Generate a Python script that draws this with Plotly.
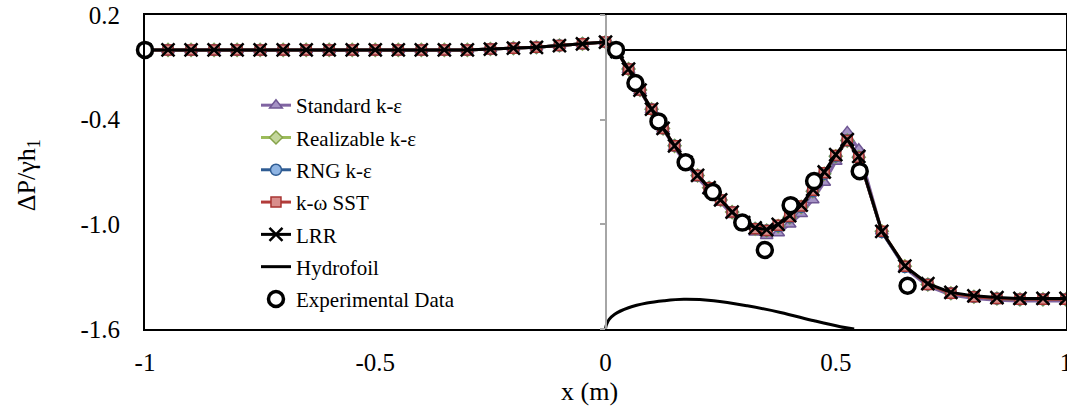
import plotly.graph_objects as go

# ---------------- data ----------------
x_cfd = [-1.0, -0.95, -0.9, -0.85, -0.8, -0.75, -0.7, -0.65, -0.6, -0.55, -0.5,
         -0.45, -0.4, -0.35, -0.3, -0.25, -0.2, -0.15, -0.1, -0.05, 0.0,
         0.025, 0.05, 0.075, 0.1, 0.125, 0.15, 0.175, 0.2, 0.225, 0.25, 0.275,
         0.3, 0.325, 0.35, 0.375, 0.4, 0.425, 0.45, 0.475, 0.5, 0.525, 0.55,
         0.6, 0.65, 0.7, 0.75, 0.8, 0.85, 0.9, 0.95, 1.0]

upstream = [0.0, 0.0, 0.0, 0.0, 0.0, 0.0, 0.0, 0.0, 0.0, 0.0, 0.0,
            0.0, 0.0, 0.0, 0.0, 0.005, 0.01, 0.015, 0.025, 0.035, 0.045]

lrr_down = [-0.01, -0.11, -0.23, -0.34, -0.45, -0.55, -0.645, -0.72, -0.79, -0.86, -0.93,
            -0.99, -1.02, -1.03, -1.0, -0.95, -0.89, -0.8, -0.7, -0.6, -0.515, -0.61,
            -1.04, -1.24, -1.34, -1.39, -1.41, -1.42, -1.425, -1.425, -1.425]
std_down = [-0.01, -0.115, -0.235, -0.345, -0.455, -0.56, -0.655, -0.735, -0.805, -0.875, -0.945,
            -1.005, -1.045, -1.065, -1.05, -1.0, -0.94, -0.86, -0.76, -0.64, -0.47, -0.57,
            -1.04, -1.25, -1.355, -1.405, -1.425, -1.435, -1.44, -1.44, -1.44]
real_down = [-0.01, -0.11, -0.23, -0.34, -0.45, -0.55, -0.645, -0.72, -0.79, -0.86, -0.93,
             -0.99, -1.025, -1.035, -1.01, -0.96, -0.9, -0.81, -0.71, -0.61, -0.52, -0.615,
             -1.04, -1.24, -1.345, -1.395, -1.415, -1.425, -1.43, -1.43, -1.43]
rng_down = [-0.01, -0.11, -0.23, -0.34, -0.45, -0.55, -0.645, -0.72, -0.79, -0.86, -0.93,
            -0.99, -1.025, -1.035, -1.01, -0.96, -0.9, -0.81, -0.71, -0.61, -0.52, -0.615,
            -1.045, -1.245, -1.345, -1.395, -1.415, -1.425, -1.43, -1.43, -1.43]
sst_down = [-0.01, -0.11, -0.23, -0.34, -0.45, -0.55, -0.645, -0.72, -0.79, -0.86, -0.93,
            -0.99, -1.025, -1.035, -1.005, -0.955, -0.895, -0.805, -0.705, -0.605, -0.52, -0.615,
            -1.04, -1.24, -1.345, -1.395, -1.415, -1.425, -1.43, -1.43, -1.43]

y_standard = upstream + std_down
y_realizable = upstream + real_down
y_rng = upstream + rng_down
y_sst = upstream + sst_down
y_lrr = upstream + lrr_down

x_exp = [-1.0, 0.023, 0.065, 0.115, 0.174, 0.233, 0.297, 0.346, 0.402, 0.453, 0.552, 0.656]
y_exp = [0.0, 0.0, -0.19, -0.41, -0.644, -0.815, -0.99, -1.147, -0.89, -0.752, -0.695, -1.352]

x_foil = [0.0, 0.002, 0.008, 0.02, 0.05, 0.09, 0.127, 0.17, 0.235, 0.308, 0.38, 0.453, 0.51, 0.54]
y_foil = [-1.6, -1.575, -1.545, -1.515, -1.478, -1.451, -1.438, -1.43, -1.438, -1.467, -1.505, -1.553, -1.587, -1.6]

x_surface = [0.0, 1.0]
y_surface = [0.0, 0.0]

x_tick_vals = [-1, -0.5, 0, 0.5, 1]
x_tick_text = ["-1", "-0.5", "0", "0.5", "1"]
y_tick_vals = [0.2, -0.4, -1.0, -1.6]
y_tick_text = ["0.2", "-0.4", "-1.0", "-1.6"]

FONT = "Liberation Serif, Times New Roman, serif"

fig = go.Figure()

fig.add_trace(go.Scatter(x=x_surface, y=y_surface, mode="lines", showlegend=False,
                         line=dict(color="black", width=2), hoverinfo="skip"))

fig.add_trace(go.Scatter(
    x=x_cfd, y=y_standard, mode="lines+markers", name="Standard k-ε", legendgroup="g1",
    line=dict(color="#8064A2", width=3),
    marker=dict(symbol="triangle-up", size=11, color="#A592C4",
                line=dict(color="#6F5794", width=1.5))))
fig.add_trace(go.Scatter(
    x=x_cfd, y=y_realizable, mode="lines+markers", name="Realizable k-ε", legendgroup="g2",
    line=dict(color="#9BBB59", width=3),
    marker=dict(symbol="diamond", size=10, color="#C3D69B",
                line=dict(color="#86A34A", width=1.5))))
fig.add_trace(go.Scatter(
    x=x_cfd, y=y_rng, mode="lines+markers", name="RNG k-ε", legendgroup="g3",
    line=dict(color="#2F5C93", width=3),
    marker=dict(symbol="circle", size=11, color="#8EB4E3",
                line=dict(color="#2F5C93", width=1.5))))
fig.add_trace(go.Scatter(
    x=x_cfd, y=y_sst, mode="lines+markers", name="k-ω SST", legendgroup="g4",
    line=dict(color="#B23C3A", width=3),
    marker=dict(symbol="square", size=10, color="#D98E8C",
                line=dict(color="#A83532", width=1.5))))
fig.add_trace(go.Scatter(
    x=x_cfd, y=y_lrr, mode="lines+markers", name="LRR", legendgroup="g5",
    line=dict(color="black", width=3),
    marker=dict(symbol="x-thin-open", size=13, color="black",
                line=dict(color="black", width=2.5))))
fig.add_trace(go.Scatter(
    x=x_foil, y=y_foil, mode="lines", name="Hydrofoil", yaxis="y2", legendgroup="g6",
    line=dict(color="black", width=3, shape="spline")))
fig.add_trace(go.Scatter(
    x=x_exp, y=y_exp, mode="markers", name="Experimental Data", cliponaxis=False,
    legendgroup="g7",
    marker=dict(symbol="circle", size=15, color="white",
                line=dict(color="black", width=3.5))))

fig.update_layout(
    width=1067, height=408,
    margin=dict(l=145, r=1, t=15, b=79, autoexpand=False),
    paper_bgcolor="white", plot_bgcolor="white",
    font=dict(family=FONT, size=25, color="black"),
    xaxis=dict(range=[-1, 1], tickvals=x_tick_vals, ticktext=x_tick_text,
               showgrid=False, zeroline=False, showline=True, mirror=True,
               linecolor="black", linewidth=2, ticks="", ticklabelstandoff=10,
               ticklabeloverflow="allow",
               automargin=False, tickfont=dict(family=FONT, size=25)),
    yaxis=dict(range=[-1.6, 0.2], tickvals=y_tick_vals, ticktext=y_tick_text,
               showgrid=False, zeroline=False, showline=True, mirror=True,
               linecolor="black", linewidth=2, ticks="", ticklabelstandoff=18,
               ticklabeloverflow="allow",
               automargin=False, tickfont=dict(family=FONT, size=25)),
    yaxis2=dict(range=[-1.6, 0.2], overlaying="y", anchor="free", position=0.5,
                side="left", tickvals=y_tick_vals, showticklabels=False,
                showgrid=False, zeroline=False, showline=True, automargin=False,
                linecolor="#A6A6A6", linewidth=1.5, ticks="outside", ticklen=5,
                tickcolor="#A6A6A6", tickwidth=1.5),
    legend=dict(x=0.1205, y=0.777, xanchor="left", yanchor="top",
                bgcolor="rgba(0,0,0,0)", font=dict(family=FONT, size=21),
                tracegroupgap=2),
    showlegend=True,
    annotations=[
        dict(text="ΔP/γh<sub>1</sub>", xref="paper", yref="paper",
             x=-0.127, y=0.49, xanchor="center", yanchor="middle",
             textangle=-90, showarrow=False, font=dict(family=FONT, size=26)),
        dict(text="x (m)", xref="paper", yref="paper",
             x=0.483, y=-0.2, xanchor="center", yanchor="middle",
             showarrow=False, font=dict(family=FONT, size=26)),
    ],
)

fig.write_html(
    "out.html",
    config={"displayModeBar": False},
    post_script="document.body.style.margin='0';document.body.style.overflow='hidden';",
)
